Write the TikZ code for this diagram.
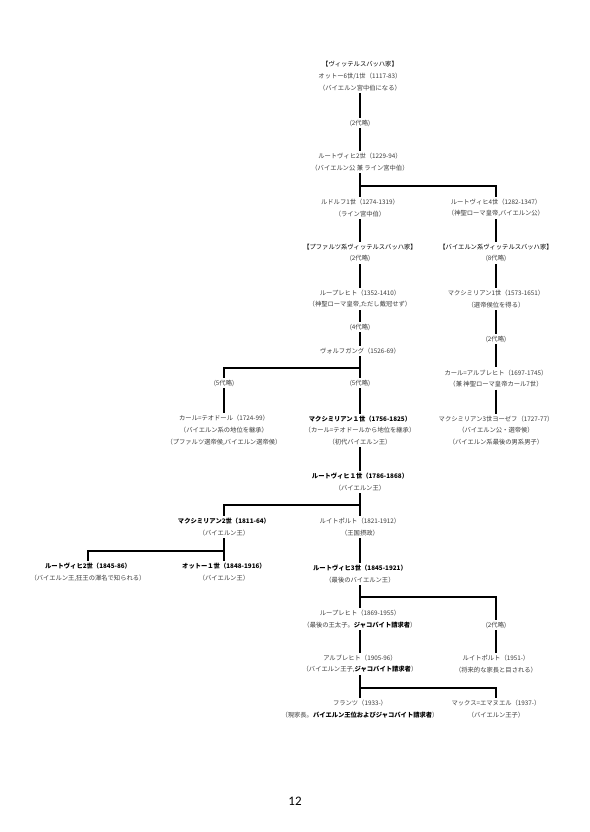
\documentclass[tikz,border=0pt]{standalone}
\usepackage{fontspec}
\setmainfont{Noto Sans CJK JP}
\newfontfamily\pagefont{Carlito}
\definecolor{txt}{HTML}{3C3C3C}
\begin{document}
\begin{tikzpicture}[x=1pt,y=-1pt,
  pers/.style={align=center,font=\fontsize{6.3}{11.7}\selectfont,text=txt,inner sep=2pt},
  conn/.style={draw=black,line width=1.1pt}]
\useasboundingbox[fill=white] (0,0) rectangle (589,832);
% nodes
\node[pers] (n1) at (360,76) {\textcolor{black}{【ヴィッテルスバッハ家】}\\オットー6世/1世（1117-83）\\（バイエルン宮中伯になる）};
\node[pers] (g1) at (360,123) {(2代略)};
\node[pers] (n2) at (360,162) {ルートヴィヒ2世（1229-94）\\（バイエルン公 兼 ライン宮中伯）};
\node[pers] (n3) at (360,208) {ルドルフ1世（1274-1319）\\（ライン宮中伯）};
\node[pers] (n4) at (496,208) {ルートヴィヒ4世（1282-1347）\\（神聖ローマ皇帝,バイエルン公）};
\node[pers] (n5) at (360,253) {\textcolor{black}{【プファルツ系ヴィッテルスバッハ家】}\\(2代略)};
\node[pers] (n6) at (496,253) {\textcolor{black}{【バイエルン系ヴィッテルスバッハ家】}\\(8代略)};
\node[pers] (n7) at (360,299) {ループレヒト（1352-1410）\\（神聖ローマ皇帝,ただし戴冠せず）};
\node[pers] (n8) at (496,299) {マクシミリアン1世（1573-1651）\\（選帝侯位を得る）};
\node[pers] (g2) at (360,327) {(4代略)};
\node[pers] (g3) at (496,339) {(2代略)};
\node[pers] (n9) at (360,351) {ヴォルフガング（1526-69）};
\node[pers] (n10) at (496,378.5) {カール=アルブレヒト（1697-1745）\\（兼 神聖ローマ皇帝カール7世）};
\node[pers] (g4) at (224,383) {(5代略)};
\node[pers] (g5) at (360,383) {(5代略)};
\node[pers] (n11) at (224,430.5) {カール=テオドール（1724-99）\\（バイエルン系の地位を継承）\\（プファルツ選帝侯,バイエルン選帝侯）};
\node[pers] (n12) at (360,430.5) {\textcolor{black}{\textbf{マクシミリアン１世（1756-1825）}}\\（カール=テオドールから地位を継承）\\（初代バイエルン王）};
\node[pers] (n13) at (496,430.5) {マクシミリアン3世ヨーゼフ（1727-77）\\（バイエルン公・選帝侯）\\（バイエルン系最後の男系男子）};
\node[pers] (n14) at (360,482) {\textcolor{black}{\textbf{ルートヴィヒ１世（1786-1868）}}\\（バイエルン王）};
\node[pers] (n15) at (224,527) {\textcolor{black}{\textbf{マクシミリアン2世（1811-64）}}\\（バイエルン王）};
\node[pers] (n16) at (360,527) {ルイトポルト（1821-1912）\\（王国摂政）};
\node[pers] (n17) at (88,572) {\textcolor{black}{\textbf{ルートヴィヒ2世（1845-86）}}\\（バイエルン王,狂王の渾名で知られる）};
\node[pers] (n18) at (224,572) {\textcolor{black}{\textbf{オットー１世（1848-1916）}}\\（バイエルン王）};
\node[pers] (n19) at (360,574) {\textcolor{black}{\textbf{ルートヴィヒ3世（1845-1921）}}\\（最後のバイエルン王）};
\node[pers] (n20) at (360,619) {ループレヒト（1869-1955）\\（最後の王太子。\textcolor{black}{\textbf{ジャコバイト請求者}}）};
\node[pers] (g6) at (496,625) {(2代略)};
\node[pers] (n21) at (360,664) {アルブレヒト（1905-96）\\（バイエルン王子,\textcolor{black}{\textbf{ジャコバイト請求者}}）};
\node[pers] (n22) at (496,664) {ルイトポルト（1951-）\\（将来的な家長と目される）};
\node[pers] (n23) at (360,709) {フランツ（1933-）\\（現家長。\textcolor{black}{\textbf{バイエルン王位およびジャコバイト請求者}}）};
\node[pers] (n24) at (496,709) {マックス=エマヌエル（1937-）\\（バイエルン王子）};
\node[font=\pagefont\fontsize{13}{15}\selectfont,inner sep=0pt] (pg) at (295,801) {12};
% junctions
\coordinate (j1) at (360,186);
\coordinate (j2) at (360,368);
\coordinate (j3) at (360,505);
\coordinate (j4) at (224,551);
\coordinate (j5) at (360,597);
\coordinate (j6) at (360,688);
% connectors
\draw[conn] (n1.south) -- (g1.north);
\draw[conn] (g1.south) -- (n2.north);
\draw[conn] (n2.south) -- (n3.north);
\draw[conn] (j1) -| (n4.north);
\draw[conn] (n3.south) -- (n5.north);
\draw[conn] (n4.south) -- (n6.north);
\draw[conn] (n5.south) -- (n7.north);
\draw[conn] (n6.south) -- (n8.north);
\draw[conn] (n7.south) -- (g2.north);
\draw[conn] (g2.south) -- (n9.north);
\draw[conn] (n8.south) -- (g3.north);
\draw[conn] (g3.south) -- (n10.north);
\draw[conn] (n10.south) -- (n13.north);
\draw[conn] (n9.south) -- (g5.north);
\draw[conn] (j2) -| (g4.north);
\draw[conn] (g4.south) -- (n11.north);
\draw[conn] (g5.south) -- (n12.north);
\draw[conn] (n12.south) -- (n14.north);
\draw[conn] (n14.south) -- (n16.north);
\draw[conn] (j3) -| (n15.north);
\draw[conn] (n15.south) -- (n18.north);
\draw[conn] (j4) -| (n17.north);
\draw[conn] (n16.south) -- (n19.north);
\draw[conn] (n19.south) -- (n20.north);
\draw[conn] (j5) -| (g6.north);
\draw[conn] (n20.south) -- (n21.north);
\draw[conn] (g6.south) -- (n22.north);
\draw[conn] (n21.south) -- (n23.north);
\draw[conn] (j6) -| (n24.north);
\end{tikzpicture}
\end{document}
